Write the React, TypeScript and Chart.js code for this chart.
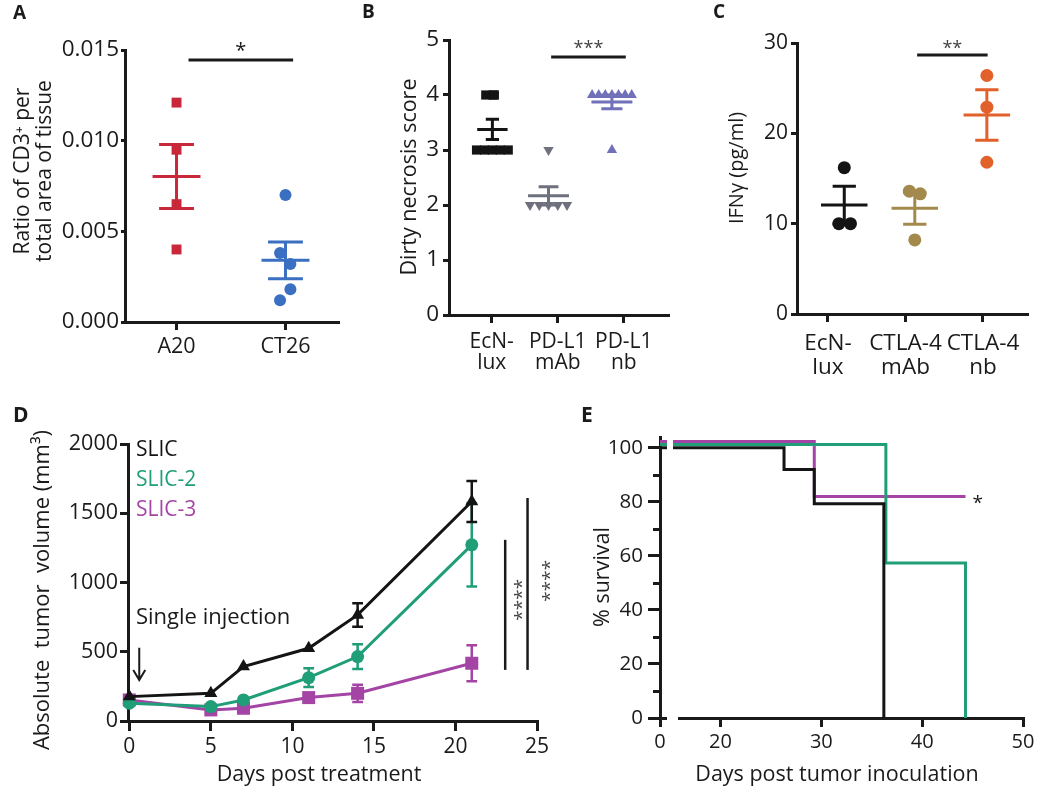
import React, { useEffect, useRef } from 'react';
import { Chart, registerables } from 'chart.js';

Chart.register(...registerables);

const FONT = "'Open Sans', 'Noto Sans', 'DejaVu Sans', sans-serif";
const INK = '#1a1a1a';
const RED = '#c9283a';
const BLUE = '#3b6fc1';
const GREY = '#6e707e';
const PURPLE = '#7171b9';
const GOLD = '#a38a4c';
const ORANGE = '#e2612b';
const GREEN = '#1f9e78';
const MAGENTA = '#a445a6';
const BLACK = '#141414';

/* ---------------- Panel A data ---------------- */
const aCategories = ['A20', 'CT26'];
const aA20 = [0.0121, 0.0095, 0.0065, 0.004];
const aA20Jitter = [0, 0, 0, 0];
const aCT26 = [0.007, 0.0038, 0.0032, 0.0018, 0.0012];
const aCT26Jitter = [0, -0.05, 0.045, 0.045, -0.05];
const aYTicks = [0, 0.005, 0.01, 0.015];
const aSigX = [0.11, 1.07];
const aSigY = 0.01445;

/* ---------------- Panel B data ---------------- */
const bCategories = [['EcN-', 'lux'], ['PD-L1', 'mAb'], ['PD-L1', 'nb']];
const bEcN = [4, 4, 4, 3, 3, 3, 3, 3];
const bEcNJitter = [-0.1, 0.01, 0.03, -0.24, -0.12, 0, 0.12, 0.24];
const bMab = [3, 2, 2, 2, 2, 2];
const bMabJitter = [0, -0.28, -0.14, 0, 0.14, 0.28];
const bNb = [4, 4, 4, 4, 4, 4, 4, 3];
const bNbJitter = [-0.3, -0.2, -0.1, 0, 0.1, 0.2, 0.3, 0];
const bGroupShift = [0.01, -0.14, -0.18];
const bYTicks = [0, 1, 2, 3, 4, 5];
const bSigX = [0.9, 2.03];
const bSigY = 4.69;

/* ---------------- Panel C data ---------------- */
const cCategories = [['EcN-', 'lux'], ['CTLA-4', 'mAb'], ['CTLA-4', 'nb']];
const cEcN = [16.2, 10, 10];
const cEcNJitter = [0, -0.07, 0.08];
const cMab = [13.6, 13.3, 8.2];
const cMabJitter = [-0.07, 0.07, 0];
const cNb = [26.4, 22.9, 16.8];
const cNbJitter = [0, 0, 0];
const cGroupShift = [0.21, 0.12, 0.05];
const cYTicks = [0, 10, 20, 30];
const cSigX = [1.15, 2.06];
const cSigY = 28.67;

/* ---------------- Panel D data ---------------- */
const dDays = [0, 5, 7, 11, 14, 21];
const dSeriesNames = ['SLIC', 'SLIC-2', 'SLIC-3'];
const dSlic = [176, 200, 393, 525, 766, 1585];
const dSlicSem = [0, 0, 0, 0, 85, 148];
const dSlic2 = [128, 104, 152, 313, 465, 1272];
const dSlic2Sem = [0, 0, 0, 67, 90, 300];
const dSlic3 = [152, 80, 92, 169, 200, 417];
const dSlic3Sem = [0, 0, 0, 0, 62, 130];
const dXTicks = [0, 5, 10, 15, 20, 25];
const dYTicks = [0, 500, 1000, 1500, 2000];
const dSigX = [23.05, 24.42];
const dSigLow = [369, 369];
const dSigHigh = [1308, 1610];

/* ---------------- Panel E data ---------------- */
const eAxisStart = 14; // broken-axis position of day 0
const eBlackT = [0, 26.3, 29.3, 36.2];
const eBlackS = [100, 92, 79.3, 0];
const eGreenT = [0, 36.4, 44.3];
const eGreenS = [101.2, 57.4, 0];
const eMagT = [0, 29.3, 44.3];
const eMagS = [102.3, 82, 82];
const eXTicks = [14, 20, 30, 40, 50];
const eXTickLabels = ['0', '20', '30', '40', '50'];
const eYTicks = [0, 10, 20, 30, 40, 50, 60, 70, 80, 90, 100];

/* ---------------- helpers ---------------- */
const mean = (a: number[]) => a.reduce((s, v) => s + v, 0) / a.length;
const sem = (a: number[]) => {
  const m = mean(a);
  return Math.sqrt(a.reduce((s, v) => s + (v - m) ** 2, 0) / (a.length - 1) / a.length);
};

type Frame = { left: number; top: number; w: number; h: number; L: number; T: number; R: number; B: number };

function errorBar(cx: number, values: number[], halfMean: number, halfCap: number) {
  const m = mean(values);
  const s = sem(values);
  return [
    { x: cx, y: m - s }, { x: cx, y: m + s }, { x: cx, y: null },
    { x: cx - halfCap, y: m + s }, { x: cx + halfCap, y: m + s }, { x: cx, y: null },
    { x: cx - halfCap, y: m - s }, { x: cx + halfCap, y: m - s }, { x: cx, y: null },
    { x: cx - halfMean, y: m }, { x: cx + halfMean, y: m },
  ];
}

function pointsDS(data: any[], color: string, style: string, r: number, rot = 0) {
  return {
    data, showLine: false, pointStyle: style, pointRadius: r, pointRotation: rot,
    pointBackgroundColor: color, pointBorderColor: color, pointBorderWidth: 0,
    borderColor: color, clip: false,
  };
}

function lineDS(data: any[], color: string, w: number, extra: any = {}) {
  return { data, borderColor: color, borderWidth: w, pointRadius: 0, spanGaps: false, clip: false, fill: false, ...extra };
}

function baseOptions(f: Frame) {
  return {
    responsive: false,
    maintainAspectRatio: false,
    animation: false,
    devicePixelRatio: 1,
    events: [],
    layout: { padding: { left: 0, bottom: 0, top: f.T - f.top, right: f.left + f.w - f.R } },
    plugins: { legend: { display: false }, tooltip: { enabled: false }, title: { display: false } },
  };
}

function axis(o: any) {
  const f: Frame = o.f;
  const fixed = o.horizontal ? f.top + f.h - f.B : f.L - f.left;
  return {
    type: 'linear',
    min: o.min,
    max: o.max,
    bounds: 'data',
    afterBuildTicks: (s: any) => { s.ticks = o.ticks.map((v: number) => ({ value: v })); },
    afterFit: (s: any) => { if (o.horizontal) s.height = fixed; else s.width = fixed; },
    border: { display: true, color: INK, width: 3 },
    grid: {
      display: true, drawOnChartArea: false, drawTicks: true, tickLength: o.tickLen, tickWidth: 3,
      tickColor: o.tickColor || INK, color: INK, lineWidth: 3,
    },
    ticks: {
      autoSkip: false, maxRotation: 0, minRotation: 0, padding: o.pad, color: INK,
      font: { family: FONT, size: o.size, lineHeight: o.lineHeight || 1.2 },
      callback: (v: number) => o.label(v),
    },
  };
}

function txt(ctx: CanvasRenderingContext2D, str: string, x: number, y: number, size: number, opts: any = {}) {
  ctx.save();
  ctx.translate(x, y);
  if (opts.rot) ctx.rotate(opts.rot);
  ctx.font = `${opts.bold ? 'bold ' : ''}${size}px ${FONT}`;
  ctx.fillStyle = opts.color || INK;
  ctx.textAlign = opts.align || 'center';
  ctx.textBaseline = opts.baseline || 'middle';
  ctx.fillText(str, 0, 0);
  ctx.restore();
}

const ROT = -Math.PI / 2;

/* ---------------- Panel A ---------------- */
function buildA(f: Frame) {
  return {
    type: 'line',
    data: {
      datasets: [
        lineDS(errorBar(0, aA20, 0.22, 0.16), RED, 3),
        lineDS(errorBar(1, aCT26, 0.22, 0.16), BLUE, 3),
        pointsDS(aA20.map((v, i) => ({ x: 0 + aA20Jitter[i], y: v })), RED, 'rect', 7),
        pointsDS(aCT26.map((v, i) => ({ x: 1 + aCT26Jitter[i], y: v })), BLUE, 'circle', 6),
        lineDS(aSigX.map((x) => ({ x, y: aSigY })), INK, 3),
      ],
    },
    options: {
      ...baseOptions(f),
      scales: {
        x: axis({ f, horizontal: true, min: -0.473, max: 1.482, ticks: [0, 1], label: (v: number) => aCategories[Math.round(v)], size: 21.5, tickLen: 8, pad: 4 }),
        y: axis({ f, horizontal: false, min: 0, max: 0.015, ticks: aYTicks, label: (v: number) => v.toFixed(3), size: 22.5, tickLen: 4, pad: 2 }),
      },
    },
    plugins: [{
      id: 'ovA',
      afterDraw: (c: any) => {
        const ctx = c.ctx;
        const X = c.scales.x, Y = c.scales.y;
        txt(ctx, 'A', 13 - f.left, 14 - f.top, 19, { bold: true, align: 'left' });
        txt(ctx, 'Ratio of CD3⁺ per', 23 - f.left, 171 - f.top, 21, { rot: ROT });
        txt(ctx, 'total area of tissue', 45 - f.left, 171 - f.top, 21, { rot: ROT });
        txt(ctx, '*', X.getPixelForValue(mean(aSigX)), Y.getPixelForValue(aSigY) - 3, 20, { baseline: 'alphabetic' });
      },
    }],
  };
}

/* ---------------- Panel B ---------------- */
function buildB(f: Frame) {
  const meanHalf = [0.23, 0.31, 0.31];
  const capHalf = [0.1, 0.15, 0.16];
  const groups = [bEcN, bMab, bNb];
  return {
    type: 'line',
    data: {
      datasets: [
        ...groups.map((g, i) => lineDS(errorBar(i + bGroupShift[i], g, meanHalf[i], capHalf[i]), [BLACK, GREY, PURPLE][i], 3)),
        pointsDS(bEcN.map((v, i) => ({ x: 0 + bGroupShift[0] + bEcNJitter[i], y: v })), BLACK, 'rect', 6.5),
        pointsDS(bMab.map((v, i) => ({ x: 1 + bGroupShift[1] + bMabJitter[i], y: v })), GREY, 'triangle', 6, 180),
        pointsDS(bNb.map((v, i) => ({ x: 2 + bGroupShift[2] + bNbJitter[i], y: v })), PURPLE, 'triangle', 6),
        lineDS(bSigX.map((x) => ({ x, y: bSigY })), INK, 3),
      ],
    },
    options: {
      ...baseOptions(f),
      scales: {
        x: axis({ f, horizontal: true, min: -0.647, max: 2.677, ticks: [0, 1, 2], label: (v: number) => bCategories[Math.round(v)], size: 21, lineHeight: 1.0, tickLen: 8, pad: 9 }),
        y: axis({ f, horizontal: false, min: 0, max: 5, ticks: bYTicks, label: (v: number) => String(v), size: 22.5, tickLen: 6, pad: 4 }),
      },
    },
    plugins: [{
      id: 'ovB',
      afterDraw: (c: any) => {
        const ctx = c.ctx;
        const X = c.scales.x, Y = c.scales.y;
        txt(ctx, 'B', 362 - f.left, 13 - f.top, 19, { bold: true, align: 'left' });
        txt(ctx, 'Dirty necrosis score', 410 - f.left, 177 - f.top, 21.5, { rot: ROT });
        txt(ctx, '***', X.getPixelForValue(mean(bSigX)), Y.getPixelForValue(bSigY) - 3, 18, { baseline: 'alphabetic', color: '#444' });
      },
    }],
  };
}

/* ---------------- Panel C ---------------- */
function buildC(f: Frame) {
  const groups = [cEcN, cMab, cNb];
  const jit = [cEcNJitter, cMabJitter, cNbJitter];
  const cols = [BLACK, GOLD, ORANGE];
  return {
    type: 'line',
    data: {
      datasets: [
        ...groups.map((g, i) => lineDS(errorBar(i + cGroupShift[i], g, 0.3, 0.15), cols[i], 3)),
        ...groups.map((g, i) => pointsDS(g.map((v, k) => ({ x: i + cGroupShift[i] + jit[i][k], y: v })), cols[i], 'circle', 6.5)),
        lineDS(cSigX.map((x) => ({ x, y: cSigY })), INK, 3),
      ],
    },
    options: {
      ...baseOptions(f),
      scales: {
        x: axis({ f, horizontal: true, min: -0.4, max: 2.568, ticks: [0, 1, 2], label: (v: number) => cCategories[Math.round(v)], size: 22.5, lineHeight: 1.08, tickLen: 8, pad: 9 }),
        y: axis({ f, horizontal: false, min: 0, max: 30, ticks: cYTicks, label: (v: number) => String(v), size: 21, tickLen: 6, pad: 3 }),
      },
    },
    plugins: [{
      id: 'ovC',
      afterDraw: (c: any) => {
        const ctx = c.ctx;
        const X = c.scales.x, Y = c.scales.y;
        txt(ctx, 'C', 713 - f.left, 13 - f.top, 19, { bold: true, align: 'left' });
        txt(ctx, 'IFNγ (pg/ml)', 737 - f.left, 168 - f.top, 20, { rot: ROT });
        txt(ctx, '**', X.getPixelForValue(mean(cSigX)), Y.getPixelForValue(cSigY) - 1, 18, { baseline: 'alphabetic', color: '#444' });
      },
    }],
  };
}

/* ---------------- Panel D ---------------- */
function dErrorBars(values: number[], sems: number[], cap: number) {
  const pts: any[] = [];
  dDays.forEach((d, i) => {
    if (!sems[i]) return;
    const lo = values[i] - sems[i];
    const hi = values[i] + sems[i];
    pts.push(
      { x: d, y: lo }, { x: d, y: hi }, { x: d, y: null },
      { x: d - cap, y: hi }, { x: d + cap, y: hi }, { x: d, y: null },
      { x: d - cap, y: lo }, { x: d + cap, y: lo }, { x: d, y: null },
    );
  });
  return pts;
}

function buildD(f: Frame) {
  const series = [
    { v: dSlic, e: dSlicSem, c: BLACK, s: 'triangle', r: 7.5 },
    { v: dSlic2, e: dSlic2Sem, c: GREEN, s: 'circle', r: 6.5 },
    { v: dSlic3, e: dSlic3Sem, c: MAGENTA, s: 'rect', r: 9.2 },
  ];
  const ds: any[] = [];
  series.forEach((s) => {
    ds.push({
      data: dDays.map((d, i) => ({ x: d, y: s.v[i] })),
      borderColor: s.c, borderWidth: 3, pointStyle: s.s, pointRadius: s.r,
      pointBackgroundColor: s.c, pointBorderColor: s.c, pointBorderWidth: 0, clip: false,
    });
    ds.push(lineDS(dErrorBars(s.v, s.e, 0.33), s.c, 2.5));
  });
  dSigX.forEach((x, i) => ds.push(lineDS([{ x, y: dSigLow[i] }, { x, y: dSigHigh[i] }], INK, 2.5)));
  const legendColors = [BLACK, GREEN, MAGENTA];
  return {
    type: 'line',
    data: { datasets: ds },
    options: {
      ...baseOptions(f),
      scales: {
        x: axis({ f, horizontal: true, min: -0.08, max: 25, ticks: dXTicks, label: (v: number) => String(v), size: 21, tickLen: 10, pad: 3 }),
        y: axis({ f, horizontal: false, min: 0, max: 2000, ticks: dYTicks, label: (v: number) => String(v), size: 21.5, tickLen: 8, pad: 2 }),
      },
    },
    plugins: [{
      id: 'ovD',
      afterDraw: (c: any) => {
        const ctx = c.ctx;
        const X = c.scales.x, Y = c.scales.y;
        txt(ctx, 'D', 13 - f.left, 416 - f.top, 21, { bold: true, align: 'left' });
        txt(ctx, 'Absolute  tumor  volume (mm³)', 43 - f.left, 590 - f.top, 22, { rot: ROT });
        txt(ctx, 'Days post treatment', 319 - f.left, 775 - f.top, 21.5);
        dSeriesNames.forEach((n, i) => {
          txt(ctx, n, X.getPixelForValue(0.41), Y.getPixelForValue(1959 - i * 217), 21, { align: 'left', color: legendColors[i] });
        });
        txt(ctx, 'Single injection', X.getPixelForValue(0.41), Y.getPixelForValue(747), 22, { align: 'left' });
        // arrow
        const ax = X.getPixelForValue(0.61);
        const ay1 = Y.getPixelForValue(528), ay2 = Y.getPixelForValue(296);
        ctx.save();
        ctx.strokeStyle = INK; ctx.lineWidth = 2;
        ctx.beginPath(); ctx.moveTo(ax, ay1); ctx.lineTo(ax, ay2);
        ctx.moveTo(ax - 6, ay2 - 10); ctx.lineTo(ax, ay2); ctx.lineTo(ax + 6, ay2 - 10);
        ctx.stroke();
        ctx.restore();
        // significance stars (rotated)
        txt(ctx, '****', X.getPixelForValue(dSigX[0]) + 23, Y.getPixelForValue(875), 19, { rot: ROT, baseline: 'alphabetic', color: '#444' });
        txt(ctx, '****', X.getPixelForValue(dSigX[1]) + 28, Y.getPixelForValue(1012), 19, { rot: ROT, baseline: 'alphabetic', color: '#444' });
      },
    }],
  };
}

/* ---------------- Panel E ---------------- */
const eX = (d: number) => (d < eAxisStart ? eAxisStart : d);

function buildE(f: Frame) {
  const km = (T: number[], S: number[]) => T.map((t, i) => ({ x: eX(t), y: S[i] }));
  const isMajor = (v: number) => v % 20 === 0;
  return {
    type: 'line',
    data: {
      datasets: [
        lineDS(km(eBlackT, eBlackS), BLACK, 3, { stepped: 'before' }),
        lineDS(km(eGreenT, eGreenS), GREEN, 3, { stepped: 'before' }),
        lineDS(km(eMagT, eMagS), MAGENTA, 3, { stepped: 'before' }),
      ],
    },
    options: {
      ...baseOptions(f),
      scales: {
        x: axis({ f, horizontal: true, min: 14, max: 50, ticks: eXTicks, label: (v: number) => eXTickLabels[eXTicks.indexOf(v)], size: 20, tickLen: 9, pad: 3 }),
        y: axis({
          f, horizontal: false, min: 0, max: 104, ticks: eYTicks,
          label: (v: number) => (isMajor(v) ? String(v) : ''), size: 20.5, tickLen: 12, pad: 5,
          tickColor: (ctx: any) => (ctx.tick && !isMajor(ctx.tick.value) ? 'rgba(0,0,0,0)' : INK),
        }),
      },
    },
    plugins: [{
      id: 'ovE',
      afterDraw: (c: any) => {
        const ctx = c.ctx;
        const X = c.scales.x, Y = c.scales.y;
        // minor ticks (shorter)
        ctx.save();
        ctx.strokeStyle = INK; ctx.lineWidth = 3;
        ctx.beginPath();
        eYTicks.filter((v) => !isMajor(v)).forEach((v) => {
          const py = Math.round(Y.getPixelForValue(v)) + 0.5;
          ctx.moveTo(c.chartArea.left - 7, py); ctx.lineTo(c.chartArea.left, py);
        });
        ctx.stroke();
        // axis break marks
        ctx.fillStyle = '#ffffff';
        ctx.fillRect(667 - f.left, 715 - f.top, 11, 7);
        ctx.fillRect(667 - f.left, 436 - f.top, 6, 16);
        ctx.restore();
        txt(ctx, 'E', 581 - f.left, 416 - f.top, 21, { bold: true, align: 'left' });
        txt(ctx, '% survival', 603 - f.left, 577 - f.top, 21.5, { rot: ROT });
        txt(ctx, 'Days post tumor inoculation', 837 - f.left, 775 - f.top, 21.5);
        txt(ctx, '*', X.getPixelForValue(45.5), Y.getPixelForValue(81.5) + 11, 19, { baseline: 'alphabetic' });
      },
    }],
  };
}

/* ---------------- layout ---------------- */
const FRAMES: { f: Frame; build: (f: Frame) => any }[] = [
  { f: { left: 0, top: 0, w: 345, h: 390, L: 125, T: 50, R: 340, B: 322 }, build: buildA },
  { f: { left: 345, top: 0, w: 330, h: 390, L: 449, T: 40, R: 670, B: 315 }, build: buildB },
  { f: { left: 675, top: 0, w: 375, h: 390, L: 797, T: 43, R: 1027, B: 314 }, build: buildC },
  { f: { left: 0, top: 390, w: 560, h: 399, L: 128, T: 444, R: 537, B: 721 }, build: buildD },
  { f: { left: 560, top: 390, w: 490, h: 399, L: 660, T: 437, R: 1023, B: 718 }, build: buildE },
];

function Panel({ f, build }: { f: Frame; build: (f: Frame) => any }) {
  const ref = useRef<HTMLCanvasElement>(null);
  useEffect(() => {
    const chart = new Chart(ref.current as HTMLCanvasElement, build(f));
    return () => chart.destroy();
  }, []);
  return (
    <canvas
      ref={ref}
      width={f.w}
      height={f.h}
      style={{ position: 'absolute', left: f.left, top: f.top, width: f.w, height: f.h }}
    />
  );
}

export default function App() {
  return (
    <div style={{ position: 'absolute', left: 0, top: 0, width: 1050, height: 789, background: '#ffffff', overflow: 'hidden' }}>
      {FRAMES.map((p, i) => (
        <Panel key={i} f={p.f} build={p.build} />
      ))}
    </div>
  );
}
